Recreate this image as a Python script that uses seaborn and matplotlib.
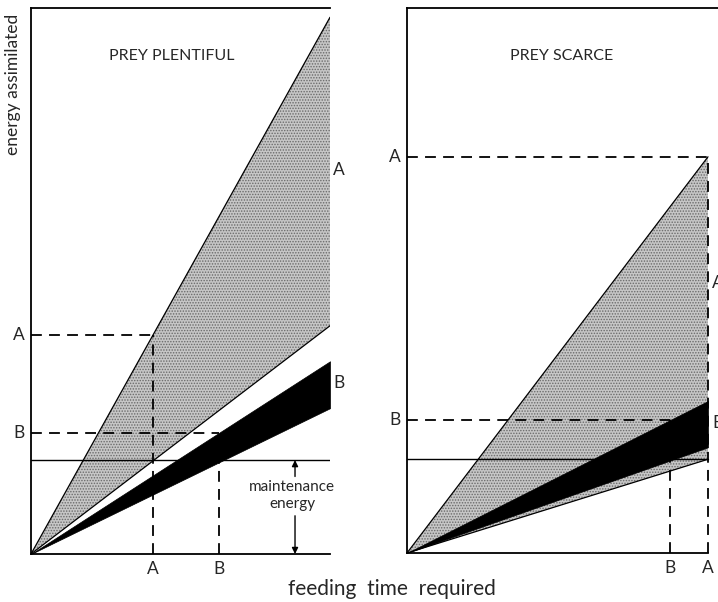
import numpy as np
import pandas as pd
import matplotlib
matplotlib.use("Agg")
import matplotlib.pyplot as plt
import seaborn as sns

# ---- data (energy per unit feeding time) ----
prey = ["A", "B"]
plentiful_upper = [0.983, 0.353]   # energy line upper edge at time = 1
plentiful_lower = [0.418, 0.267]   # energy line lower edge at time = 1
plentiful_time = [0.408, 0.629]    # feeding time required
scarce_upper = [0.727, 0.279]
scarce_lower = [0.172, 0.194]
scarce_time = [1.0, 0.874]
maintenance = 0.172
panel_titles = ["PREY PLENTIFUL", "PREY SCARCE"]

sns.set_theme(style="white")
plt.rcParams["font.family"] = ["Lato", "DejaVu Sans"]
plt.rcParams["hatch.linewidth"] = 0.7
plt.rcParams["hatch.color"] = "#6a6a6a"

fig = plt.figure(figsize=(7.18, 6.02), dpi=100)
axL = fig.add_axes([31/718, 48/602, 299/718, 546/602])
axR = fig.add_axes([407/718, 49/602, 311/718, 545/602])

GRAY = "#c6c6c6"
dash = (0, (6, 4))


def draw_panel(ax, upper, lower, tvals, title, xmax, title_x):
    xs = np.array([0.0, 1.0])
    # gray region for prey A
    ax.fill_between(xs, xs * lower[0], xs * upper[0], facecolor=GRAY,
                    hatch="......", edgecolor="#6a6a6a", linewidth=0, zorder=1)
    # black band for prey B
    ax.fill_between(xs, xs * lower[1], xs * upper[1], facecolor="black",
                    edgecolor="black", linewidth=0.5, zorder=3)
    # edge lines of A region
    for v in (upper[0], lower[0]):
        sns.lineplot(x=xs, y=xs * v, ax=ax, color="black", lw=0.9, zorder=4)
    # maintenance line
    sns.lineplot(x=[0, 1], y=[maintenance, maintenance], ax=ax, color="black",
                 lw=1.0, zorder=2)
    # dashed guide lines
    for k in range(2):
        t = tvals[k]
        e = upper[k] * t
        ax.plot([0, t], [e, e], color="black", lw=1.3, linestyle=dash, zorder=2)
        ax.plot([t, t], [0, e], color="black", lw=1.3, linestyle=dash, zorder=2)
        ax.text(t, -0.012, prey[k], ha="center", va="top", fontsize=12.5)
        ax.text(-0.022, e, prey[k], ha="right", va="center", fontsize=12.5)
    ax.set_xlim(0, xmax)
    ax.set_ylim(0, 1)
    ax.set_xticks([])
    ax.set_yticks([])
    ax.set_xlabel("")
    ax.set_ylabel("")
    for s in ("left", "bottom", "top"):
        ax.spines[s].set_visible(True)
        ax.spines[s].set_color("black")
        ax.spines[s].set_linewidth(1.3)
    ax.spines["right"].set_visible(False)
    ax.spines["bottom"].set_bounds(0, 1)
    ax.text(title_x, 0.912, title, ha="center", va="center", fontsize=11.5)
    ax.set_facecolor("white")
    for t in ax.texts:
        t.set_clip_on(False)


draw_panel(axL, plentiful_upper, plentiful_lower, plentiful_time,
           panel_titles[0], 1.0, 0.472)
draw_panel(axR, scarce_upper, scarce_lower, scarce_time,
           panel_titles[1], 311/301, 0.515)

# right-side labels
axL.text(1.01, 0.703, "A", ha="left", va="center", fontsize=12.5)
axL.text(1.01, 0.313, "B", ha="left", va="center", fontsize=12.5)
axR.text(1.013, 0.495, "A", ha="left", va="center", fontsize=12.5)
axR.text(1.013, 0.239, "B", ha="left", va="center", fontsize=12.5)

# maintenance energy annotation
axL.text(0.873, 0.123, "maintenance", ha="center", va="center", fontsize=11)
axL.text(0.873, 0.091, "energy", ha="center", va="center", fontsize=11)
axL.annotate("", xy=(0.883, maintenance), xytext=(0.883, 0.142),
             arrowprops=dict(arrowstyle="-|>", color="black", lw=1.0,
                             mutation_scale=9, shrinkA=0, shrinkB=0))
axL.annotate("", xy=(0.883, 0.0), xytext=(0.883, 0.070),
             arrowprops=dict(arrowstyle="-|>", color="black", lw=1.0,
                             mutation_scale=9, shrinkA=0, shrinkB=0))

fig.text(392/718, 1 - 589/602, "feeding  time  required", ha="center",
         va="center", fontsize=15)
fig.text(13/718, 1 - 84/602, "energy assimilated", ha="center", va="center",
         rotation=90, fontsize=12.5)

fig.savefig("out.png", dpi=100, facecolor="white")
